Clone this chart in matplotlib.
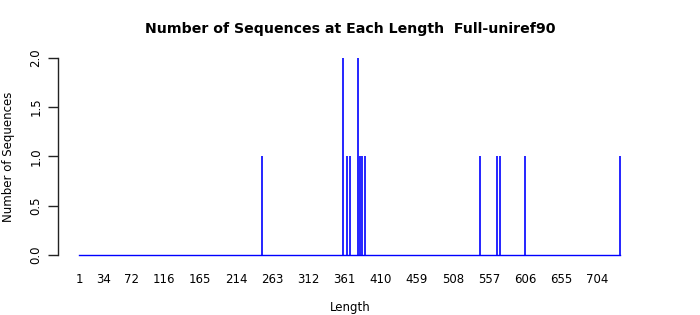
import numpy as np
import matplotlib
matplotlib.use("Agg")
import matplotlib.pyplot as plt

# Data
seq_lengths = [249, 359, 364, 368, 379, 382, 385, 389, 545, 568, 572, 605, 734]
seq_counts = [1, 2, 1, 1, 2, 1, 1, 1, 1, 1, 1, 1, 1]
x_tick_labels = [1, 34, 72, 116, 165, 214, 263, 312, 361, 410, 459, 508, 557, 606, 655, 704]
y_ticks = [0.0, 0.5, 1.0, 1.5, 2.0]

min_len = 1
max_len = max(seq_lengths)

fig = plt.figure(figsize=(7, 3.15), dpi=100)
left, right = 57.7 / 700, 641.4 / 700
bottom, top = 1 - 262.9 / 315, 1 - 49.8 / 315
ax = fig.add_axes([left, bottom, right - left, top - bottom])

ax.plot([min_len, max_len], [0, 0], color="#0000FF", lw=1.0)
ax.vlines(seq_lengths, 0, seq_counts, color="#0000FF", lw=1.2)

span = max_len - min_len
ax.set_xlim(min_len - 0.04 * span, max_len + 0.04 * span)
ax.set_ylim(-0.08, 2.08)

for s in ["top", "right", "bottom"]:
    ax.spines[s].set_visible(False)
ax.spines["left"].set_bounds(0, 2)
ax.spines["left"].set_color("#222222")
ax.spines["left"].set_linewidth(1.0)

ax.set_xticks(x_tick_labels)
ax.set_xticklabels([str(v) for v in x_tick_labels], fontsize=8.5)
ax.tick_params(axis="x", length=0, pad=7)

ax.set_yticks(y_ticks)
ax.set_yticklabels([f"{v:.1f}" for v in y_ticks], fontsize=8.5, rotation=90, va="center")
ax.tick_params(axis="y", length=7, width=1.0, color="#222222", pad=4)

fig.text(0.5, 1 - 307 / 315, "Length", ha="center", va="center", fontsize=8.5)
fig.text(9 / 700, 1 - 157 / 315, "Number of Sequences", ha="center", va="center",
         rotation=90, fontsize=8.5)
fig.text(0.5, 1 - 29 / 315, "Number of Sequences at Each Length  Full-uniref90",
         ha="center", va="center", fontsize=10.2, fontweight="bold")

fig.savefig("out.png", dpi=100)
